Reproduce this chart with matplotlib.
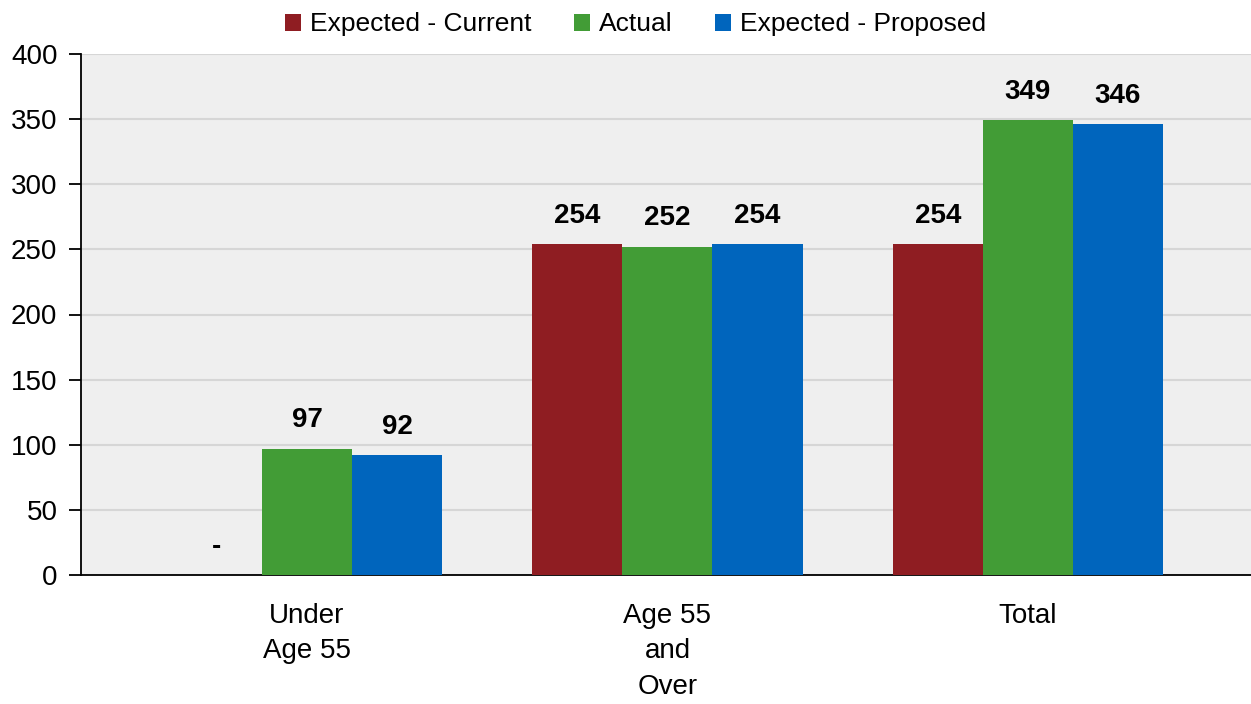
import matplotlib
matplotlib.use("Agg")
import matplotlib.pyplot as plt
import numpy as np

categories = ["Under\nAge 55", "Age 55\nand\nOver", "Total"]
series_names = ["Expected - Current", "Actual", "Expected - Proposed"]
expected_current = [0, 254, 254]
actual = [97, 252, 349]
expected_proposed = [92, 254, 346]
y_ticks = [0, 50, 100, 150, 200, 250, 300, 350, 400]

colors = ["#8f1d22", "#429c36", "#0065bd"]
FAM = ["Liberation Sans", "DejaVu Sans"]
plt.rcParams['font.family'] = FAM

fig = plt.figure(figsize=(12.51, 7.04), dpi=100)
ax = fig.add_axes([81/1251, (704-575)/704, 1 - 81/1251, (575-54)/704])
ax.set_facecolor("#efefef")

x = np.arange(len(categories))
w = 0.25
data = [expected_current, actual, expected_proposed]
for i, (name, vals, c) in enumerate(zip(series_names, data, colors)):
    bars = ax.bar(x + (i - 1) * w, vals, w, color=c, label=name, zorder=3)
    ax.bar_label(bars, labels=["-" if v == 0 else f"{v:.0f}" for v in vals],
                 padding=11, fontsize=20, fontweight="bold", zorder=4)

ax.set_xlim(-0.627, 2.619)
ax.set_ylim(0, 400)
ax.set_yticks(y_ticks)
ax.set_yticklabels([str(t) for t in y_ticks], fontsize=20)
ax.set_xticks(x)
ax.set_xticklabels(categories, fontsize=20, linespacing=1.48)
ax.tick_params(axis="x", length=0, pad=20)
ax.tick_params(axis="y", length=9, width=1.3, pad=8, direction="out")
ax.yaxis.grid(True, color="#d6d6d6", linewidth=1.5, zorder=0)
ax.set_axisbelow(True)
for s in ["top", "right"]:
    ax.spines[s].set_visible(False)
ax.spines["left"].set_linewidth(1.3)
ax.spines["bottom"].set_linewidth(1.3)

fig.legend(loc="upper center", bbox_to_anchor=(0.508, 1.016), ncol=3, frameon=False,
           fontsize=19, handlelength=0.6, handleheight=0.6, handletextpad=0.35,
           columnspacing=1.6)

fig.savefig("out.png", dpi=100)
